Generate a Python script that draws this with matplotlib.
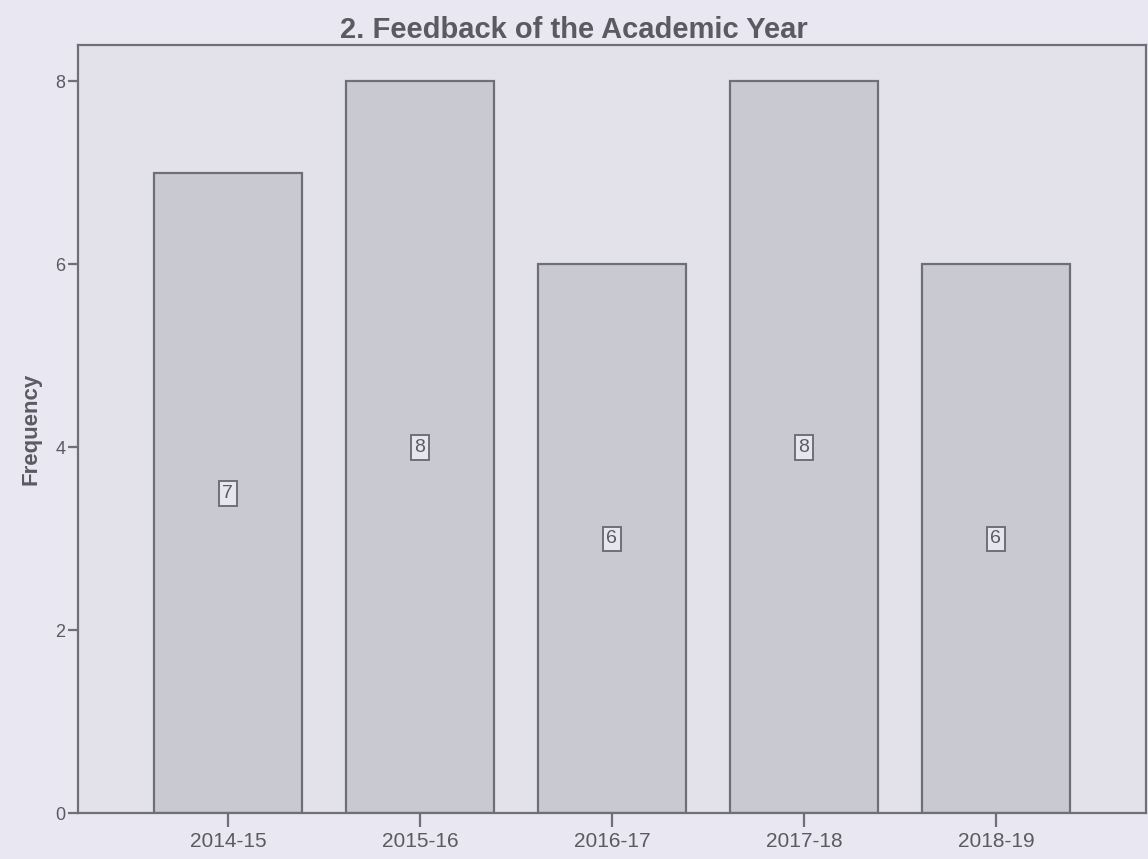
import matplotlib.pyplot as plt

years = ["2014-15", "2015-16", "2016-17", "2017-18", "2018-19"]
frequency = [7, 8, 6, 8, 6]

BG = "#e9e7f1"
PLOT_BG = "#e3e2ea"
BAR = "#c9c9d1"
EDGE = "#6f6f78"
TXT = "#5a5a62"

plt.rcParams["font.family"] = ["Liberation Sans", "DejaVu Sans"]

fig = plt.figure(figsize=(11.48, 8.59), dpi=100, facecolor=BG)
ax = fig.add_axes([0.068, 0.053, 0.930, 0.895], facecolor=PLOT_BG)

x = range(len(years))
ax.bar(x, frequency, width=0.77, color=BAR, edgecolor=EDGE, linewidth=1.6)

# value boxes in the middle of each bar
for xi, v in zip(x, frequency):
    ax.text(xi, v / 2, str(v), ha="center", va="center", fontsize=14, color=TXT,
            bbox=dict(boxstyle="square,pad=0.2", fc="#e6e6ee", ec=EDGE, lw=1.4))

ax.set_xlim(-0.78, 4.78)
ax.set_ylim(0, 8.4)
ax.set_xticks(list(x))
ax.set_xticklabels(years)
ax.set_yticks([0, 2, 4, 6, 8])

for s in ax.spines.values():
    s.set_color(EDGE)
    s.set_linewidth(1.6)

ax.tick_params(axis="both", colors=EDGE, labelcolor=TXT, width=1.6)
ax.tick_params(axis="y", length=7, pad=2, labelsize=13)
ax.tick_params(axis="x", length=10, pad=3, labelsize=15)

ax.set_ylabel("Frequency", fontsize=16, fontweight="bold", color=TXT, labelpad=10)
fig.text(0.5, 0.965, "2. Feedback of the Academic Year", ha="center", va="center",
         fontsize=21, fontweight="bold", color=TXT)

fig.savefig("out.png", dpi=100, facecolor=BG)
